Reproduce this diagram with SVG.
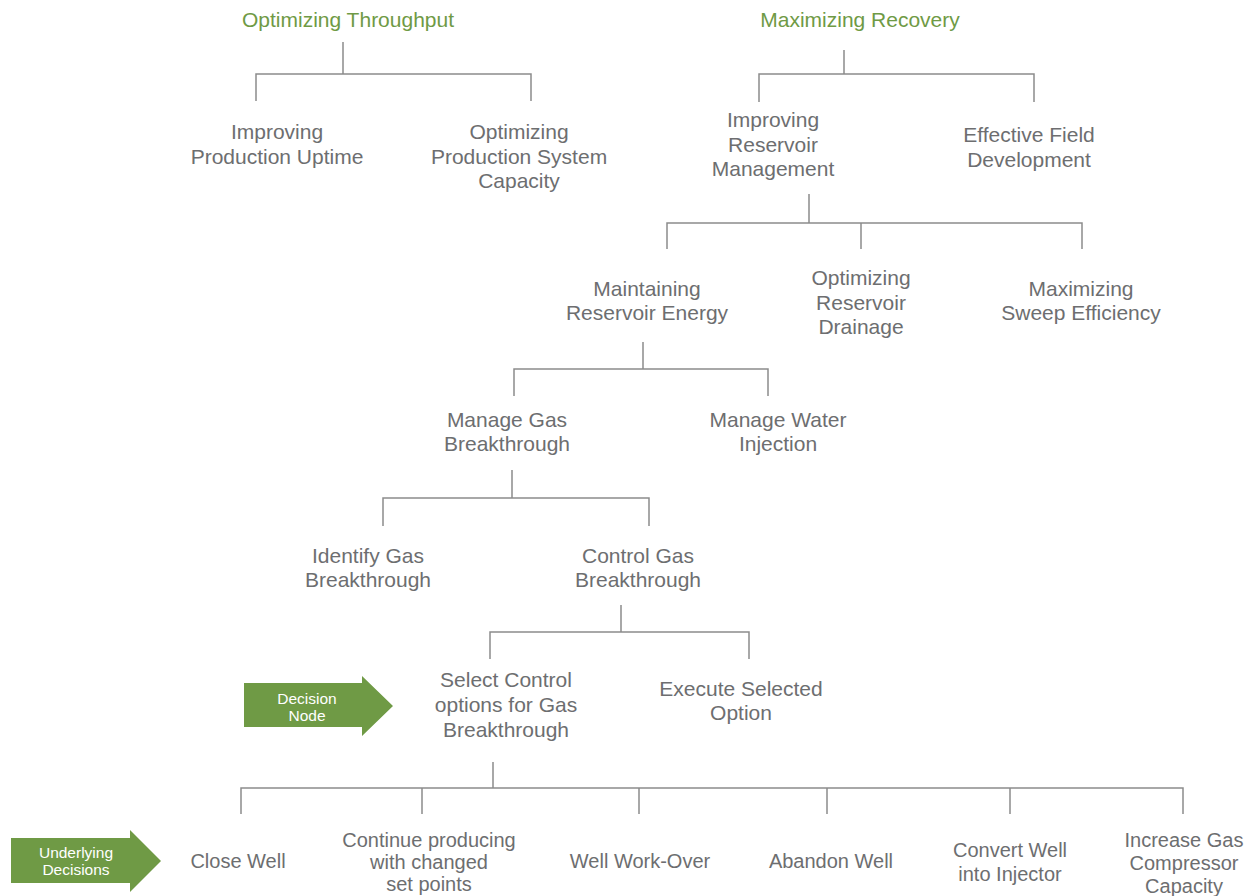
<svg xmlns="http://www.w3.org/2000/svg" width="1256" height="896" viewBox="0 0 1256 896">
<style>
text{font-family:"Liberation Sans",Arial,Helvetica,sans-serif;text-anchor:middle}
.t{font-size:21px;fill:#6d6e70}
.b{font-size:20px;fill:#6d6e70}
.g{font-size:21px;fill:#6f9a45}
.w{font-size:15.5px;fill:#ffffff}
.c{fill:none;stroke:#8c8c8c;stroke-width:1.5}
.arr{fill:#6f9a45}
</style>
<rect width="1256" height="896" fill="#ffffff"/>
<g id="connectors">
<path class="c" d="M343 42V74M256 101V74H531V101"/>
<path class="c" d="M844 50V74M759 102V74H1034V102"/>
<path class="c" d="M809 194V223M667 249V223H1082V249M861 223V249"/>
<path class="c" d="M643 342V369M514 396V369H768V396"/>
<path class="c" d="M512 470V498M383 526V498H649V526"/>
<path class="c" d="M621 605V632M490 659V632H749V659"/>
<path class="c" d="M493 762V788M241 814V788H1183V814M422 788V814M639 788V814M827 788V814M1010 788V814"/>
</g>
<g id="n-throughput"><text class="g" x="348" y="27">Optimizing Throughput</text></g>
<g id="n-recovery"><text class="g" x="860" y="27">Maximizing Recovery</text></g>
<g id="n-uptime"><text class="t" x="277" y="139">Improving</text><text class="t" x="277" y="164">Production Uptime</text></g>
<g id="n-capacity"><text class="t" x="519" y="139">Optimizing</text><text class="t" x="519" y="163.5">Production System</text><text class="t" x="519" y="188">Capacity</text></g>
<g id="n-reservoir-mgmt"><text class="t" x="773" y="127">Improving</text><text class="t" x="773" y="151.5">Reservoir</text><text class="t" x="773" y="176">Management</text></g>
<g id="n-field-dev"><text class="t" x="1029" y="142">Effective Field</text><text class="t" x="1029" y="167">Development</text></g>
<g id="n-energy"><text class="t" x="647" y="296">Maintaining</text><text class="t" x="647" y="320">Reservoir Energy</text></g>
<g id="n-drainage"><text class="t" x="861" y="285">Optimizing</text><text class="t" x="861" y="309.5">Reservoir</text><text class="t" x="861" y="334">Drainage</text></g>
<g id="n-sweep"><text class="t" x="1081" y="296">Maximizing</text><text class="t" x="1081" y="320">Sweep Efficiency</text></g>
<g id="n-manage-gas"><text class="t" x="507" y="427">Manage Gas</text><text class="t" x="507" y="451">Breakthrough</text></g>
<g id="n-manage-water"><text class="t" x="778" y="427">Manage Water</text><text class="t" x="778" y="451">Injection</text></g>
<g id="n-identify"><text class="t" x="368" y="563">Identify Gas</text><text class="t" x="368" y="587">Breakthrough</text></g>
<g id="n-control"><text class="t" x="638" y="563">Control Gas</text><text class="t" x="638" y="587">Breakthrough</text></g>
<g id="n-select"><text class="t" x="506" y="687">Select Control</text><text class="t" x="506" y="712">options for Gas</text><text class="t" x="506" y="737">Breakthrough</text></g>
<g id="n-execute"><text class="t" x="741" y="696">Execute Selected</text><text class="t" x="741" y="720">Option</text></g>
<g id="label-decision-node">
<path class="arr" d="M244 683H362V676L393 706L362 736V727H244Z"/>
<text class="w" x="307" y="704">Decision</text><text class="w" x="307" y="721">Node</text>
</g>
<g id="label-underlying">
<path class="arr" d="M11 838H130V830L161 861L130 892V883H11Z"/>
<text class="w" x="76" y="858">Underlying</text><text class="w" x="76" y="875">Decisions</text>
</g>
<g id="n-close"><text class="b" x="238" y="868">Close Well</text></g>
<g id="n-continue"><text class="b" x="429" y="847">Continue producing</text><text class="b" x="429" y="869">with changed</text><text class="b" x="429" y="891">set points</text></g>
<g id="n-workover"><text class="b" x="640" y="868">Well Work-Over</text></g>
<g id="n-abandon"><text class="b" x="831" y="868">Abandon Well</text></g>
<g id="n-convert"><text class="b" x="1010" y="857">Convert Well</text><text class="b" x="1010" y="881">into Injector</text></g>
<g id="n-compressor"><text class="b" x="1184" y="847">Increase Gas</text><text class="b" x="1184" y="870">Compressor</text><text class="b" x="1184" y="893">Capacity</text></g>
</svg>
